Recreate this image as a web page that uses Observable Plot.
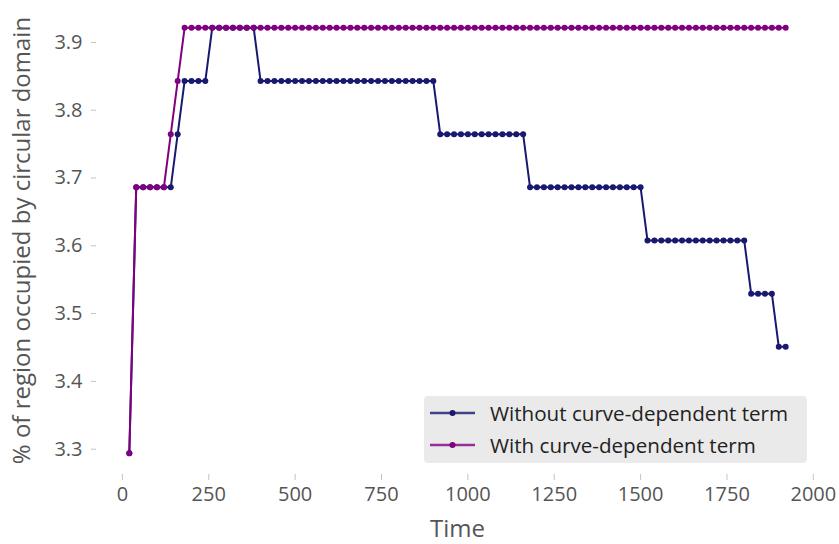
<!DOCTYPE html>
<html>
<head>
<meta charset="utf-8">
<script src="https://cdn.jsdelivr.net/npm/d3@7"></script>
<script src="https://cdn.jsdelivr.net/npm/@observablehq/plot@0.6"></script>
<style>
  html, body { margin: 0; padding: 0; background: #fff; }
  #wrap { position: relative; width: 839px; height: 544px; overflow: hidden; }
  g[aria-label$="-axis tick"] { stroke: #c4c4c4; }
  g[aria-label$="-axis label"] { font-size: 24px; fill: #555; }
  #legend { position: absolute; left: 424px; top: 396px; width: 383px; height: 67px;
    background: #eaeaea; border-radius: 4px; font-family: "Open Sans", sans-serif;
    font-size: 20.6px; color: #222; }
  .row { position: absolute; left: 6px; height: 30px; display: flex; align-items: center; }
  .row svg { margin-right: 15px; }
</style>
</head>
<body>
<div id="wrap"></div>
<script>
const seriesNames = ["Without curve-dependent term", "With curve-dependent term"];
const seriesColors = ["#191970", "#800080"];

const time = [
  20, 40, 60, 80, 100, 120, 140, 160, 180, 200,
  220, 240, 260, 280, 300, 320, 340, 360, 380, 400,
  420, 440, 460, 480, 500, 520, 540, 560, 580, 600,
  620, 640, 660, 680, 700, 720, 740, 760, 780, 800,
  820, 840, 860, 880, 900, 920, 940, 960, 980, 1000,
  1020, 1040, 1060, 1080, 1100, 1120, 1140, 1160, 1180, 1200,
  1220, 1240, 1260, 1280, 1300, 1320, 1340, 1360, 1380, 1400,
  1420, 1440, 1460, 1480, 1500, 1520, 1540, 1560, 1580, 1600,
  1620, 1640, 1660, 1680, 1700, 1720, 1740, 1760, 1780, 1800,
  1820, 1840, 1860, 1880, 1900, 1920
];

const withoutTerm = [
  3.2941, 3.6863, 3.6863, 3.6863, 3.6863, 3.6863, 3.6863, 3.7647, 3.8431, 3.8431,
  3.8431, 3.8431, 3.9216, 3.9216, 3.9216, 3.9216, 3.9216, 3.9216, 3.9216, 3.8431,
  3.8431, 3.8431, 3.8431, 3.8431, 3.8431, 3.8431, 3.8431, 3.8431, 3.8431, 3.8431,
  3.8431, 3.8431, 3.8431, 3.8431, 3.8431, 3.8431, 3.8431, 3.8431, 3.8431, 3.8431,
  3.8431, 3.8431, 3.8431, 3.8431, 3.8431, 3.7647, 3.7647, 3.7647, 3.7647, 3.7647,
  3.7647, 3.7647, 3.7647, 3.7647, 3.7647, 3.7647, 3.7647, 3.7647, 3.6863, 3.6863,
  3.6863, 3.6863, 3.6863, 3.6863, 3.6863, 3.6863, 3.6863, 3.6863, 3.6863, 3.6863,
  3.6863, 3.6863, 3.6863, 3.6863, 3.6863, 3.6078, 3.6078, 3.6078, 3.6078, 3.6078,
  3.6078, 3.6078, 3.6078, 3.6078, 3.6078, 3.6078, 3.6078, 3.6078, 3.6078, 3.6078,
  3.5294, 3.5294, 3.5294, 3.5294, 3.4510, 3.4510
];

const withTerm = [
  3.2941, 3.6863, 3.6863, 3.6863, 3.6863, 3.6863, 3.7647, 3.8431, 3.9216, 3.9216,
  3.9216, 3.9216, 3.9216, 3.9216, 3.9216, 3.9216, 3.9216, 3.9216, 3.9216, 3.9216,
  3.9216, 3.9216, 3.9216, 3.9216, 3.9216, 3.9216, 3.9216, 3.9216, 3.9216, 3.9216,
  3.9216, 3.9216, 3.9216, 3.9216, 3.9216, 3.9216, 3.9216, 3.9216, 3.9216, 3.9216,
  3.9216, 3.9216, 3.9216, 3.9216, 3.9216, 3.9216, 3.9216, 3.9216, 3.9216, 3.9216,
  3.9216, 3.9216, 3.9216, 3.9216, 3.9216, 3.9216, 3.9216, 3.9216, 3.9216, 3.9216,
  3.9216, 3.9216, 3.9216, 3.9216, 3.9216, 3.9216, 3.9216, 3.9216, 3.9216, 3.9216,
  3.9216, 3.9216, 3.9216, 3.9216, 3.9216, 3.9216, 3.9216, 3.9216, 3.9216, 3.9216,
  3.9216, 3.9216, 3.9216, 3.9216, 3.9216, 3.9216, 3.9216, 3.9216, 3.9216, 3.9216,
  3.9216, 3.9216, 3.9216, 3.9216, 3.9216, 3.9216
];

const xTicks = [0, 250, 500, 750, 1000, 1250, 1500, 1750, 2000];
const yTicks = [3.3, 3.4, 3.5, 3.6, 3.7, 3.8, 3.9];

const rows = [];
[withoutTerm, withTerm].forEach((vals, s) => {
  vals.forEach((v, i) => rows.push({series: seriesNames[s], time: time[i], value: v}));
});

const chart = Plot.plot({
  width: 839,
  height: 544,
  marginLeft: 96,
  marginRight: 21,
  marginTop: 6,
  marginBottom: 70,
  style: {fontFamily: "Open Sans", fontSize: "20px", color: "#555", background: "#fff"},
  x: {domain: [-75, 2015], ticks: xTicks, tickSize: 6, tickPadding: 6, tickFormat: d3.format("d"),
      label: "Time", labelAnchor: "center", labelArrow: "none", labelOffset: 62},
  y: {domain: [3.2627, 3.953], ticks: yTicks, tickSize: 5, tickPadding: 9, tickFormat: d3.format(".1f"),
      label: "% of region occupied by circular domain", labelAnchor: "center", labelArrow: "none", labelOffset: 84},
  color: {domain: seriesNames, range: seriesColors},
  marks: [
    Plot.line(rows, {x: "time", y: "value", stroke: "series", strokeWidth: 2}),
    Plot.dot(rows, {x: "time", y: "value", fill: "series", r: 3, stroke: null})
  ]
});
const wrap = document.getElementById("wrap");
wrap.appendChild(chart);

const legend = document.createElement("div");
legend.id = "legend";
seriesNames.forEach((name, i) => {
  const row = document.createElement("div");
  row.className = "row";
  row.style.top = (i * 32 + 2) + "px";
  row.innerHTML = `<svg width="45" height="10"><line x1="0" y1="5" x2="45" y2="5" stroke="${seriesColors[i]}" stroke-width="2.5" opacity="0.8"/><circle cx="22.5" cy="5" r="3" fill="${seriesColors[i]}"/></svg><span>${name}</span>`;
  legend.appendChild(row);
});
wrap.appendChild(legend);
</script>
</body>
</html>
